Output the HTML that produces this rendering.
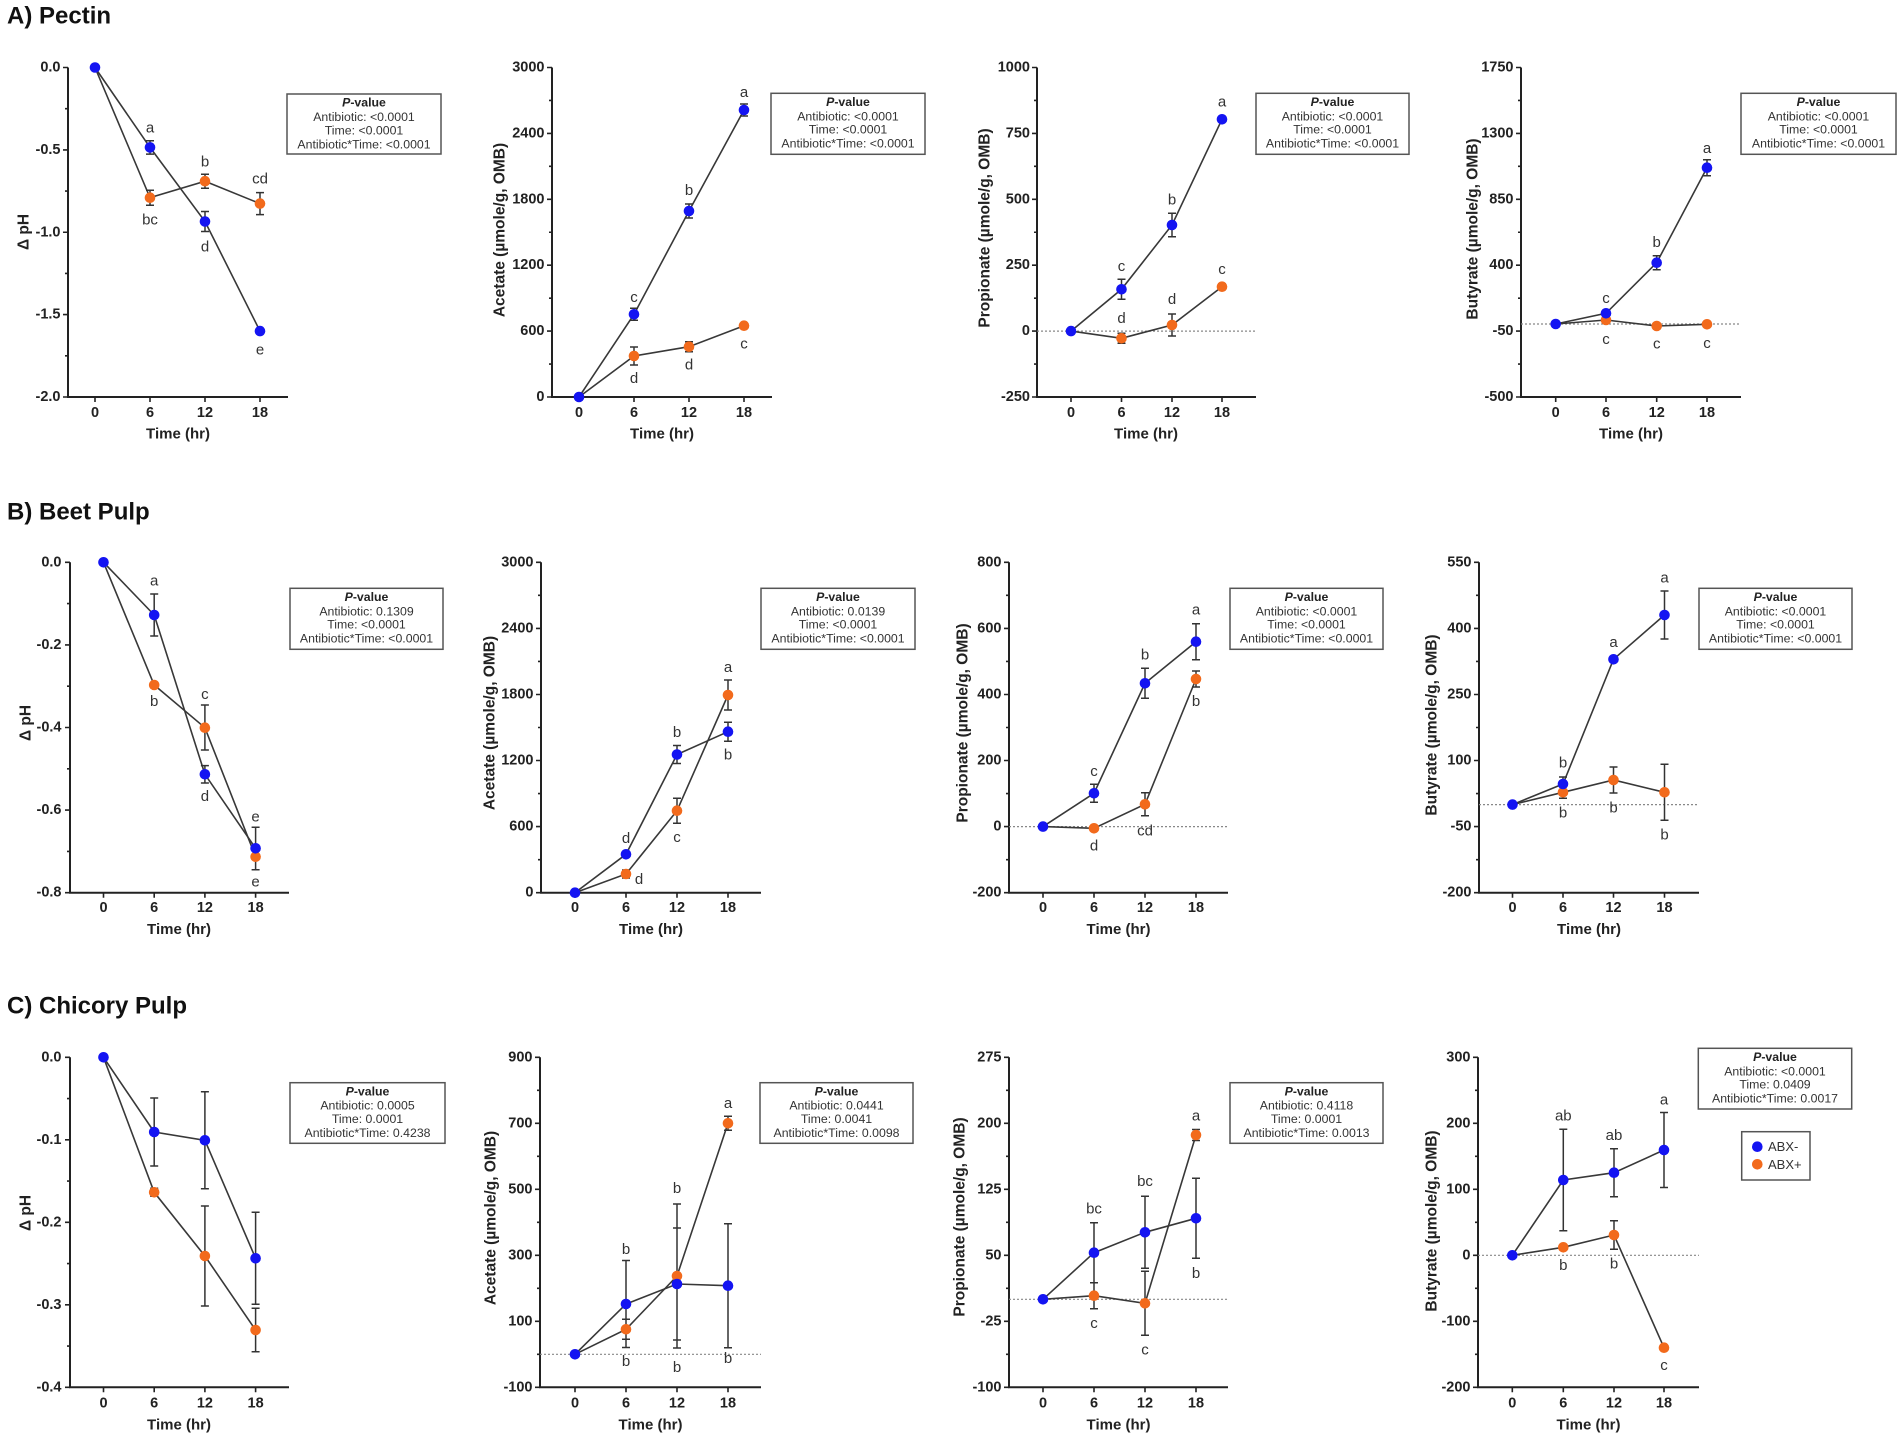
<!DOCTYPE html>
<html><head><meta charset="utf-8"><style>
html,body{margin:0;padding:0;background:#fff}
svg{display:block}
.ax{stroke:#222;stroke-width:2;fill:none}
.tk{stroke:#222;stroke-width:1.6;fill:none}
.ln{stroke:#383838;stroke-width:1.6;fill:none}
.eb{stroke:#333;stroke-width:1.5;fill:none}
.dt{stroke:#888;stroke-width:1.2;stroke-dasharray:2 2;fill:none}
.b{fill:#1414f2}
.o{fill:#f26a1c}
text{font-family:"Liberation Sans",Arial,sans-serif;dominant-baseline:central}
.yl{font-size:14.5px;font-weight:bold;fill:#222;text-anchor:end}
.xl{font-size:14.5px;font-weight:bold;fill:#222;text-anchor:middle}
.xt{font-size:15px;font-weight:bold;fill:#222;text-anchor:middle}
.ya{font-size:15.5px;font-weight:bold;fill:#222;text-anchor:middle}
.lt{font-size:15px;fill:#333;text-anchor:middle}
.lg{font-size:12.3px;fill:#333;text-anchor:middle}
.lgh{font-size:12.3px;fill:#222;font-weight:bold;text-anchor:middle}
.bx{fill:#fff;stroke:#555;stroke-width:1.5}
.ttl{font-size:24px;font-weight:bold;fill:#111}
</style></head><body>
<svg width="1902" height="1440" viewBox="0 0 1902 1440" xmlns="http://www.w3.org/2000/svg">
<rect width="1902" height="1440" fill="#fff"/>

<text class="ttl" x="7" y="16">A) Pectin</text>
<text class="ttl" x="7" y="512">B) Beet Pulp</text>
<text class="ttl" x="7" y="1006">C) Chicory Pulp</text>

<!-- ================= A1 ================= -->
<path class="ax" d="M68 67.5V397H288"/>
<path class="tk" d="M63 67.5H68M65 108.7H68M63 149.9H68M65 191.1H68M63 232.25H68M65 273.4H68M63 314.6H68M65 355.8H68M63 397H68M95 397V402M150 397V402M205 397V402M260 397V402"/>
<text class="yl" x="60.5" y="67.5">0.0</text><text class="yl" x="60.5" y="149.9">-0.5</text><text class="yl" x="60.5" y="232.25">-1.0</text><text class="yl" x="60.5" y="314.6">-1.5</text><text class="yl" x="60.5" y="397">-2.0</text>
<text class="xl" x="95" y="413">0</text><text class="xl" x="150" y="413">6</text><text class="xl" x="205" y="413">12</text><text class="xl" x="260" y="413">18</text>
<text class="xt" x="178" y="434">Time (hr)</text>
<text class="ya" transform="translate(24 232) rotate(-90)">Δ pH</text>
<polyline class="ln" points="95,67.5 150,147.4 205,221.5 260,331.1"/>
<polyline class="ln" points="95,67.5 150,197.7 205,181.2 260,203.6"/>
<path class="eb" d="M150 140.7V154.1M146 140.7H154M146 154.1H154M205 211.5V231.5M201 211.5H209M201 231.5H209M150 190.2V205.2M146 190.2H154M146 205.2H154M205 174.2V188.2M201 174.2H209M201 188.2H209M260 192.6V214.6M256 192.6H264M256 214.6H264"/>
<g class="o"><circle cx="150" cy="197.7" r="5.3"/><circle cx="205" cy="181.2" r="5.3"/><circle cx="260" cy="203.6" r="5.3"/></g>
<g class="b"><circle cx="95" cy="67.5" r="5.3"/><circle cx="150" cy="147.4" r="5.3"/><circle cx="205" cy="221.5" r="5.3"/><circle cx="260" cy="331.1" r="5.3"/></g>
<text class="lt" x="150" y="128">a</text><text class="lt" x="150" y="220">bc</text><text class="lt" x="205" y="162">b</text><text class="lt" x="205" y="247">d</text><text class="lt" x="260" y="179">cd</text><text class="lt" x="260" y="350">e</text>
<rect class="bx" x="287" y="94" width="154" height="60"/>
<text class="lgh" x="364" y="102.7"><tspan font-style="italic">P</tspan>-value</text>
<text class="lg" x="364" y="117">Antibiotic: &lt;0.0001</text><text class="lg" x="364" y="130.3">Time: &lt;0.0001</text><text class="lg" x="364" y="144.3">Antibiotic*Time: &lt;0.0001</text>

<!-- ================= A2 ================= -->
<path class="ax" d="M552 67.5V397H772"/>
<path class="tk" d="M547 67.5H552M549 100.45H552M547 133.4H552M549 166.35H552M547 199.3H552M549 232.25H552M547 265.2H552M549 298.15H552M547 331.1H552M549 364.05H552M547 397H552M579 397V402M634 397V402M689 397V402M744 397V402"/>
<text class="yl" x="544.5" y="67.5">3000</text><text class="yl" x="544.5" y="133.4">2400</text><text class="yl" x="544.5" y="199.3">1800</text><text class="yl" x="544.5" y="265.2">1200</text><text class="yl" x="544.5" y="331.1">600</text><text class="yl" x="544.5" y="397">0</text>
<text class="xl" x="579" y="413">0</text><text class="xl" x="634" y="413">6</text><text class="xl" x="689" y="413">12</text><text class="xl" x="744" y="413">18</text>
<text class="xt" x="662" y="434">Time (hr)</text>
<text class="ya" transform="translate(500 230) rotate(-90)">Acetate (µmole/g, OMB)</text>
<polyline class="ln" points="579,397 634,314.3 689,211 744,110"/>
<polyline class="ln" points="579,397 634,356 689,346.7 744,325.7"/>
<path class="eb" d="M634 308.3V320.3M630 308.3H638M630 320.3H638M689 204V218M685 204H693M685 218H693M744 104V116M740 104H748M740 116H748M634 347V365M630 347H638M630 365H638M689 341.7V351.7M685 341.7H693M685 351.7H693"/>
<g class="o"><circle cx="634" cy="356" r="5.3"/><circle cx="689" cy="346.7" r="5.3"/><circle cx="744" cy="325.7" r="5.3"/></g>
<g class="b"><circle cx="579" cy="397" r="5.3"/><circle cx="634" cy="314.3" r="5.3"/><circle cx="689" cy="211" r="5.3"/><circle cx="744" cy="110" r="5.3"/></g>
<text class="lt" x="634" y="297.3">c</text><text class="lt" x="689" y="190.7">b</text><text class="lt" x="744" y="92.3">a</text><text class="lt" x="634" y="378.3">d</text><text class="lt" x="689" y="365">d</text><text class="lt" x="744" y="344">c</text>
<rect class="bx" x="771" y="93.3" width="154" height="61"/>
<text class="lgh" x="848" y="102"><tspan font-style="italic">P</tspan>-value</text>
<text class="lg" x="848" y="116.3">Antibiotic: &lt;0.0001</text><text class="lg" x="848" y="129.6">Time: &lt;0.0001</text><text class="lg" x="848" y="143.6">Antibiotic*Time: &lt;0.0001</text>

<!-- ================= A3 ================= -->
<path class="ax" d="M1037 67.5V397H1256"/>
<path class="dt" d="M1037 331.1H1256"/>
<path class="tk" d="M1032 67.5H1037M1034 100.45H1037M1032 133.4H1037M1034 166.35H1037M1032 199.3H1037M1034 232.25H1037M1032 265.2H1037M1034 298.15H1037M1032 331.1H1037M1034 364.05H1037M1032 397H1037M1071 397V402M1121.5 397V402M1172 397V402M1222 397V402"/>
<text class="yl" x="1030" y="67.5">1000</text><text class="yl" x="1030" y="133.4">750</text><text class="yl" x="1030" y="199.3">500</text><text class="yl" x="1030" y="265.2">250</text><text class="yl" x="1030" y="331.1">0</text><text class="yl" x="1030" y="397">-250</text>
<text class="xl" x="1071" y="413">0</text><text class="xl" x="1121.5" y="413">6</text><text class="xl" x="1172" y="413">12</text><text class="xl" x="1222" y="413">18</text>
<text class="xt" x="1146" y="434">Time (hr)</text>
<text class="ya" transform="translate(985 228) rotate(-90)">Propionate (µmole/g, OMB)</text>
<polyline class="ln" points="1071,331.1 1121.5,289.3 1172,225 1222,119.3"/>
<polyline class="ln" points="1071,331.1 1121.5,338.3 1172,325 1222,286.7"/>
<path class="eb" d="M1121.5 279.3V299.3M1117.5 279.3H1125.5M1117.5 299.3H1125.5M1172 213.3V236.7M1168 213.3H1176M1168 236.7H1176M1121.5 333.3V343.3M1117.5 333.3H1125.5M1117.5 343.3H1125.5M1172 314V336M1168 314H1176M1168 336H1176M1222 283.7V289.7M1218 283.7H1226M1218 289.7H1226"/>
<g class="o"><circle cx="1121.5" cy="338.3" r="5.3"/><circle cx="1172" cy="325" r="5.3"/><circle cx="1222" cy="286.7" r="5.3"/></g>
<g class="b"><circle cx="1071" cy="331.1" r="5.3"/><circle cx="1121.5" cy="289.3" r="5.3"/><circle cx="1172" cy="225" r="5.3"/><circle cx="1222" cy="119.3" r="5.3"/></g>
<text class="lt" x="1121.5" y="266.7">c</text><text class="lt" x="1121.5" y="318.5">d</text><text class="lt" x="1172" y="200">b</text><text class="lt" x="1172" y="299.5">d</text><text class="lt" x="1222" y="102">a</text><text class="lt" x="1222" y="269.5">c</text>
<rect class="bx" x="1256" y="93.3" width="153" height="61"/>
<text class="lgh" x="1332.5" y="102"><tspan font-style="italic">P</tspan>-value</text>
<text class="lg" x="1332.5" y="116.3">Antibiotic: &lt;0.0001</text><text class="lg" x="1332.5" y="129.6">Time: &lt;0.0001</text><text class="lg" x="1332.5" y="143.6">Antibiotic*Time: &lt;0.0001</text>

<!-- ================= A4 ================= -->
<path class="ax" d="M1521 67.5V397H1741"/>
<path class="dt" d="M1521 324H1741"/>
<path class="tk" d="M1516 67.5H1521M1518 100.45H1521M1516 133.4H1521M1518 166.35H1521M1516 199.3H1521M1518 232.25H1521M1516 265.2H1521M1518 298.15H1521M1516 331.1H1521M1518 364.05H1521M1516 397H1521M1555.7 397V402M1606 397V402M1656.7 397V402M1707 397V402"/>
<text class="yl" x="1513.5" y="67.5">1750</text><text class="yl" x="1513.5" y="133.4">1300</text><text class="yl" x="1513.5" y="199.3">850</text><text class="yl" x="1513.5" y="265.2">400</text><text class="yl" x="1513.5" y="331.1">-50</text><text class="yl" x="1513.5" y="397">-500</text>
<text class="xl" x="1555.7" y="413">0</text><text class="xl" x="1606" y="413">6</text><text class="xl" x="1656.7" y="413">12</text><text class="xl" x="1707" y="413">18</text>
<text class="xt" x="1631" y="434">Time (hr)</text>
<text class="ya" transform="translate(1473 229) rotate(-90)">Butyrate (µmole/g, OMB)</text>
<polyline class="ln" points="1555.7,324 1606,313.3 1656.7,262.7 1707,167.7"/>
<polyline class="ln" points="1555.7,324 1606,320 1656.7,326 1707,324.3"/>
<path class="eb" d="M1606 310.3V316.3M1602 310.3H1610M1656.7 255.7V269.7M1652.7 255.7H1660.7M1652.7 269.7H1660.7M1707 159.7V175.7M1703 159.7H1711M1703 175.7H1711"/>
<g class="o"><circle cx="1606" cy="320" r="5.3"/><circle cx="1656.7" cy="326" r="5.3"/><circle cx="1707" cy="324.3" r="5.3"/></g>
<g class="b"><circle cx="1555.7" cy="324" r="5.3"/><circle cx="1606" cy="313.3" r="5.3"/><circle cx="1656.7" cy="262.7" r="5.3"/><circle cx="1707" cy="167.7" r="5.3"/></g>
<text class="lt" x="1606" y="298.3">c</text><text class="lt" x="1606" y="339.3">c</text><text class="lt" x="1656.7" y="242.7">b</text><text class="lt" x="1656.7" y="344">c</text><text class="lt" x="1707" y="148.3">a</text><text class="lt" x="1707" y="343.3">c</text>
<rect class="bx" x="1741" y="93.3" width="155" height="61"/>
<text class="lgh" x="1818.5" y="102"><tspan font-style="italic">P</tspan>-value</text>
<text class="lg" x="1818.5" y="116.3">Antibiotic: &lt;0.0001</text><text class="lg" x="1818.5" y="129.6">Time: &lt;0.0001</text><text class="lg" x="1818.5" y="143.6">Antibiotic*Time: &lt;0.0001</text>

<!-- ================= B1 ================= -->
<path class="ax" d="M70 562.3V892.7H289"/>
<path class="tk" d="M65 562.3H70M67 603.6H70M65 644.9H70M67 686.2H70M65 727.5H70M67 768.8H70M65 810.1H70M67 851.4H70M65 892.7H70M103.5 892.7V897.7M154.2 892.7V897.7M204.9 892.7V897.7M255.6 892.7V897.7"/>
<text class="yl" x="61.5" y="562.3">0.0</text><text class="yl" x="61.5" y="644.9">-0.2</text><text class="yl" x="61.5" y="727.5">-0.4</text><text class="yl" x="61.5" y="810.1">-0.6</text><text class="yl" x="61.5" y="892.7">-0.8</text>
<text class="xl" x="103.5" y="908">0</text><text class="xl" x="154.2" y="908">6</text><text class="xl" x="204.9" y="908">12</text><text class="xl" x="255.6" y="908">18</text>
<text class="xt" x="179" y="929.5">Time (hr)</text>
<text class="ya" transform="translate(26 723) rotate(-90)">Δ pH</text>
<polyline class="ln" points="103.5,562.3 154.2,615 204.9,774.3 255.6,848.3"/>
<polyline class="ln" points="103.5,562.3 154.2,685 204.9,727.7 255.6,856.7"/>
<path class="eb" d="M154.2 594V636M150.2 594H158.2M150.2 636H158.2M204.9 765.6V783M200.9 765.6H208.9M200.9 783H208.9M255.6 827.3V869.7M251.6 827.3H259.6M251.6 869.7H259.6M204.9 705V750M200.9 705H208.9M200.9 750H208.9"/>
<g class="o"><circle cx="154.2" cy="685" r="5.3"/><circle cx="204.9" cy="727.7" r="5.3"/><circle cx="255.6" cy="856.7" r="5.3"/></g>
<g class="b"><circle cx="103.5" cy="562.3" r="5.3"/><circle cx="154.2" cy="615" r="5.3"/><circle cx="204.9" cy="774.3" r="5.3"/><circle cx="255.6" cy="848.3" r="5.3"/></g>
<text class="lt" x="154.2" y="581">a</text><text class="lt" x="154.2" y="701.7">b</text><text class="lt" x="204.9" y="694.5">c</text><text class="lt" x="204.9" y="796.7">d</text><text class="lt" x="255.6" y="817">e</text><text class="lt" x="255.6" y="882">e</text>
<rect class="bx" x="290" y="588.3" width="153" height="61"/>
<text class="lgh" x="366.5" y="597"><tspan font-style="italic">P</tspan>-value</text>
<text class="lg" x="366.5" y="611.3">Antibiotic: 0.1309</text><text class="lg" x="366.5" y="624.6">Time: &lt;0.0001</text><text class="lg" x="366.5" y="638.6">Antibiotic*Time: &lt;0.0001</text>

<!-- ================= B2 ================= -->
<path class="ax" d="M541 562.3V892.7H761"/>
<path class="tk" d="M536 562.3H541M538 595.35H541M536 628.4H541M538 661.45H541M536 694.5H541M538 727.5H541M536 760.5H541M538 793.55H541M536 826.6H541M538 859.65H541M536 892.7H541M575 892.7V897.7M626 892.7V897.7M677 892.7V897.7M728 892.7V897.7"/>
<text class="yl" x="533.5" y="562.3">3000</text><text class="yl" x="533.5" y="628.4">2400</text><text class="yl" x="533.5" y="694.5">1800</text><text class="yl" x="533.5" y="760.5">1200</text><text class="yl" x="533.5" y="826.6">600</text><text class="yl" x="533.5" y="892.7">0</text>
<text class="xl" x="575" y="908">0</text><text class="xl" x="626" y="908">6</text><text class="xl" x="677" y="908">12</text><text class="xl" x="728" y="908">18</text>
<text class="xt" x="651" y="929.5">Time (hr)</text>
<text class="ya" transform="translate(490 723) rotate(-90)">Acetate (µmole/g, OMB)</text>
<polyline class="ln" points="575,892.7 626,854.3 677,754.5 728,731.7"/>
<polyline class="ln" points="575,892.7 626,874 677,810.7 728,695"/>
<path class="eb" d="M626 870V878M622 870H630M622 878H630M677 745.5V763.5M673 745.5H681M673 763.5H681M677 798.3V823.3M673 798.3H681M673 823.3H681M728 722.3V741.3M724 722.3H732M724 741.3H732M728 680V710M724 680H732M724 710H732"/>
<g class="o"><circle cx="626" cy="874" r="5.3"/><circle cx="677" cy="810.7" r="5.3"/><circle cx="728" cy="695" r="5.3"/></g>
<g class="b"><circle cx="575" cy="892.7" r="5.3"/><circle cx="626" cy="854.3" r="5.3"/><circle cx="677" cy="754.5" r="5.3"/><circle cx="728" cy="731.7" r="5.3"/></g>
<text class="lt" x="626" y="838.3">d</text><text class="lt" x="639" y="879.3">d</text><text class="lt" x="677" y="732.7">b</text><text class="lt" x="677" y="837.7">c</text><text class="lt" x="728" y="667.3">a</text><text class="lt" x="728" y="755">b</text>
<rect class="bx" x="761" y="588.3" width="154" height="61"/>
<text class="lgh" x="838" y="597"><tspan font-style="italic">P</tspan>-value</text>
<text class="lg" x="838" y="611.3">Antibiotic: 0.0139</text><text class="lg" x="838" y="624.6">Time: &lt;0.0001</text><text class="lg" x="838" y="638.6">Antibiotic*Time: &lt;0.0001</text>

<!-- ================= B3 ================= -->
<path class="ax" d="M1009 562.3V892.7H1228"/>
<path class="dt" d="M1009 826.6H1228"/>
<path class="tk" d="M1004 562.3H1009M1006 595.35H1009M1004 628.4H1009M1006 661.45H1009M1004 694.5H1009M1006 727.5H1009M1004 760.5H1009M1006 793.55H1009M1004 826.6H1009M1006 859.65H1009M1004 892.7H1009M1043 892.7V897.7M1094 892.7V897.7M1145 892.7V897.7M1196 892.7V897.7"/>
<text class="yl" x="1001.5" y="562.3">800</text><text class="yl" x="1001.5" y="628.4">600</text><text class="yl" x="1001.5" y="694.5">400</text><text class="yl" x="1001.5" y="760.5">200</text><text class="yl" x="1001.5" y="826.6">0</text><text class="yl" x="1001.5" y="892.7">-200</text>
<text class="xl" x="1043" y="908">0</text><text class="xl" x="1094" y="908">6</text><text class="xl" x="1145" y="908">12</text><text class="xl" x="1196" y="908">18</text>
<text class="xt" x="1118.5" y="929.5">Time (hr)</text>
<text class="ya" transform="translate(963 723) rotate(-90)">Propionate (µmole/g, OMB)</text>
<polyline class="ln" points="1043,826.6 1094,793.3 1145,683.3 1196,641.7"/>
<polyline class="ln" points="1043,826.6 1094,828.3 1145,804.3 1196,679"/>
<path class="eb" d="M1094 784.3V802.3M1090 784.3H1098M1090 802.3H1098M1145 668.3V698.3M1141 668.3H1149M1141 698.3H1149M1196 623.7V659.7M1192 623.7H1200M1192 659.7H1200M1145 792.8V815.8M1141 792.8H1149M1141 815.8H1149M1196 671V687M1192 671H1200M1192 687H1200"/>
<g class="o"><circle cx="1094" cy="828.3" r="5.3"/><circle cx="1145" cy="804.3" r="5.3"/><circle cx="1196" cy="679" r="5.3"/></g>
<g class="b"><circle cx="1043" cy="826.6" r="5.3"/><circle cx="1094" cy="793.3" r="5.3"/><circle cx="1145" cy="683.3" r="5.3"/><circle cx="1196" cy="641.7" r="5.3"/></g>
<text class="lt" x="1094" y="771.7">c</text><text class="lt" x="1094" y="846">d</text><text class="lt" x="1145" y="655">b</text><text class="lt" x="1145" y="831">cd</text><text class="lt" x="1196" y="610">a</text><text class="lt" x="1196" y="701.7">b</text>
<rect class="bx" x="1230" y="588.3" width="153" height="61"/>
<text class="lgh" x="1306.5" y="597"><tspan font-style="italic">P</tspan>-value</text>
<text class="lg" x="1306.5" y="611.3">Antibiotic: &lt;0.0001</text><text class="lg" x="1306.5" y="624.6">Time: &lt;0.0001</text><text class="lg" x="1306.5" y="638.6">Antibiotic*Time: &lt;0.0001</text>

<!-- ================= B4 ================= -->
<path class="ax" d="M1479 562.3V892.7H1699"/>
<path class="dt" d="M1479 804.6H1699"/>
<path class="tk" d="M1474 562.3H1479M1476 595.35H1479M1474 628.4H1479M1476 661.45H1479M1474 694.5H1479M1476 727.5H1479M1474 760.5H1479M1476 793.55H1479M1474 826.6H1479M1476 859.65H1479M1474 892.7H1479M1512.5 892.7V897.7M1563 892.7V897.7M1613.5 892.7V897.7M1664.5 892.7V897.7"/>
<text class="yl" x="1471.5" y="562.3">550</text><text class="yl" x="1471.5" y="628.4">400</text><text class="yl" x="1471.5" y="694.5">250</text><text class="yl" x="1471.5" y="760.5">100</text><text class="yl" x="1471.5" y="826.6">-50</text><text class="yl" x="1471.5" y="892.7">-200</text>
<text class="xl" x="1512.5" y="908">0</text><text class="xl" x="1563" y="908">6</text><text class="xl" x="1613.5" y="908">12</text><text class="xl" x="1664.5" y="908">18</text>
<text class="xt" x="1589" y="929.5">Time (hr)</text>
<text class="ya" transform="translate(1432 725) rotate(-90)">Butyrate (µmole/g, OMB)</text>
<polyline class="ln" points="1512.5,804.6 1563,784 1613.5,659.3 1664.5,615"/>
<polyline class="ln" points="1512.5,804.6 1563,792.3 1613.5,780 1664.5,792.3"/>
<path class="eb" d="M1563 777V791M1559 777H1567M1664.5 591V639M1660.5 591H1668.5M1660.5 639H1668.5M1563 786.3V798.3M1559 798.3H1567M1613.5 767V793M1609.5 767H1617.5M1609.5 793H1617.5M1664.5 764.3V820.3M1660.5 764.3H1668.5M1660.5 820.3H1668.5"/>
<g class="o"><circle cx="1563" cy="792.3" r="5.3"/><circle cx="1613.5" cy="780" r="5.3"/><circle cx="1664.5" cy="792.3" r="5.3"/></g>
<g class="b"><circle cx="1512.5" cy="804.6" r="5.3"/><circle cx="1563" cy="784" r="5.3"/><circle cx="1613.5" cy="659.3" r="5.3"/><circle cx="1664.5" cy="615" r="5.3"/></g>
<text class="lt" x="1563" y="763">b</text><text class="lt" x="1563" y="813">b</text><text class="lt" x="1613.5" y="642.7">a</text><text class="lt" x="1613.5" y="808">b</text><text class="lt" x="1664.5" y="578">a</text><text class="lt" x="1664.5" y="835">b</text>
<rect class="bx" x="1699" y="588.3" width="153" height="61"/>
<text class="lgh" x="1775.5" y="597"><tspan font-style="italic">P</tspan>-value</text>
<text class="lg" x="1775.5" y="611.3">Antibiotic: &lt;0.0001</text><text class="lg" x="1775.5" y="624.6">Time: &lt;0.0001</text><text class="lg" x="1775.5" y="638.6">Antibiotic*Time: &lt;0.0001</text>

<!-- ================= C1 ================= -->
<path class="ax" d="M70 1057.3V1387.3H289"/>
<path class="tk" d="M65 1057.3H70M67 1098.55H70M65 1139.8H70M67 1181.05H70M65 1222.3H70M67 1263.55H70M65 1304.8H70M67 1346.05H70M65 1387.3H70M103.5 1387.3V1392.3M154.2 1387.3V1392.3M204.9 1387.3V1392.3M255.6 1387.3V1392.3"/>
<text class="yl" x="61.5" y="1057.3">0.0</text><text class="yl" x="61.5" y="1139.8">-0.1</text><text class="yl" x="61.5" y="1222.3">-0.2</text><text class="yl" x="61.5" y="1304.8">-0.3</text><text class="yl" x="61.5" y="1387.3">-0.4</text>
<text class="xl" x="103.5" y="1403.3">0</text><text class="xl" x="154.2" y="1403.3">6</text><text class="xl" x="204.9" y="1403.3">12</text><text class="xl" x="255.6" y="1403.3">18</text>
<text class="xt" x="179" y="1425">Time (hr)</text>
<text class="ya" transform="translate(26 1213) rotate(-90)">Δ pH</text>
<polyline class="ln" points="103.5,1057.3 154.2,1132 204.9,1140.3 255.6,1258.3"/>
<polyline class="ln" points="103.5,1057.3 154.2,1192.3 204.9,1256 255.6,1330"/>
<path class="eb" d="M154.2 1098V1166M150.2 1098H158.2M150.2 1166H158.2M204.9 1091.8V1188.8M200.9 1091.8H208.9M200.9 1188.8H208.9M255.6 1212.3V1304.3M251.6 1212.3H259.6M251.6 1304.3H259.6M154.2 1188.3V1196.3M150.2 1188.3H158.2M150.2 1196.3H158.2M204.9 1206V1306M200.9 1206H208.9M200.9 1306H208.9M255.6 1308.3V1351.7M251.6 1308.3H259.6M251.6 1351.7H259.6"/>
<g class="o"><circle cx="154.2" cy="1192.3" r="5.3"/><circle cx="204.9" cy="1256" r="5.3"/><circle cx="255.6" cy="1330" r="5.3"/></g>
<g class="b"><circle cx="103.5" cy="1057.3" r="5.3"/><circle cx="154.2" cy="1132" r="5.3"/><circle cx="204.9" cy="1140.3" r="5.3"/><circle cx="255.6" cy="1258.3" r="5.3"/></g>
<rect class="bx" x="290" y="1082.7" width="155" height="60.6"/>
<text class="lgh" x="367.5" y="1091.4"><tspan font-style="italic">P</tspan>-value</text>
<text class="lg" x="367.5" y="1105.7">Antibiotic: 0.0005</text><text class="lg" x="367.5" y="1119">Time: 0.0001</text><text class="lg" x="367.5" y="1133">Antibiotic*Time: 0.4238</text>

<!-- ================= C2 ================= -->
<path class="ax" d="M540 1057.3V1387.3H761"/>
<path class="dt" d="M540 1354.3H761"/>
<path class="tk" d="M535 1057.3H540M537 1090.3H540M535 1123.3H540M537 1156.3H540M535 1189.3H540M537 1222.3H540M535 1255.3H540M537 1288.3H540M535 1321.3H540M537 1354.3H540M535 1387.3H540M575 1387.3V1392.3M626 1387.3V1392.3M677 1387.3V1392.3M728 1387.3V1392.3"/>
<text class="yl" x="532.5" y="1057.3">900</text><text class="yl" x="532.5" y="1123.3">700</text><text class="yl" x="532.5" y="1189.3">500</text><text class="yl" x="532.5" y="1255.3">300</text><text class="yl" x="532.5" y="1321.3">100</text><text class="yl" x="532.5" y="1387.3">-100</text>
<text class="xl" x="575" y="1403.3">0</text><text class="xl" x="626" y="1403.3">6</text><text class="xl" x="677" y="1403.3">12</text><text class="xl" x="728" y="1403.3">18</text>
<text class="xt" x="650.5" y="1425">Time (hr)</text>
<text class="ya" transform="translate(491 1218) rotate(-90)">Acetate (µmole/g, OMB)</text>
<polyline class="ln" points="575,1354.3 626,1304 677,1284 728,1285.7"/>
<polyline class="ln" points="575,1354.3 626,1329.3 677,1276 728,1123.3"/>
<path class="eb" d="M626 1260.5V1347.5M622 1260.5H630M622 1347.5H630M626 1319.3V1339.3M622 1319.3H630M622 1339.3H630M677 1228V1340M673 1228H681M673 1340H681M677 1204V1348M673 1204H681M673 1348H681M728 1223.7V1347.7M724 1223.7H732M724 1347.7H732M728 1116.3V1130.3M724 1116.3H732M724 1130.3H732"/>
<g class="o"><circle cx="626" cy="1329.3" r="5.3"/><circle cx="677" cy="1276" r="5.3"/><circle cx="728" cy="1123.3" r="5.3"/></g>
<g class="b"><circle cx="575" cy="1354.3" r="5.3"/><circle cx="626" cy="1304" r="5.3"/><circle cx="677" cy="1284" r="5.3"/><circle cx="728" cy="1285.7" r="5.3"/></g>
<text class="lt" x="626" y="1249.3">b</text><text class="lt" x="626" y="1361.7">b</text><text class="lt" x="677" y="1188.3">b</text><text class="lt" x="677" y="1367.3">b</text><text class="lt" x="728" y="1103.3">a</text><text class="lt" x="728" y="1358.3">b</text>
<rect class="bx" x="760" y="1082.7" width="153" height="60.6"/>
<text class="lgh" x="836.5" y="1091.4"><tspan font-style="italic">P</tspan>-value</text>
<text class="lg" x="836.5" y="1105.7">Antibiotic: 0.0441</text><text class="lg" x="836.5" y="1119">Time: 0.0041</text><text class="lg" x="836.5" y="1133">Antibiotic*Time: 0.0098</text>

<!-- ================= C3 ================= -->
<path class="ax" d="M1009 1057.3V1387.3H1228"/>
<path class="dt" d="M1009 1299.3H1228"/>
<path class="tk" d="M1004 1057.3H1009M1006 1090.3H1009M1004 1123.3H1009M1006 1156.3H1009M1004 1189.3H1009M1006 1222.3H1009M1004 1255.3H1009M1006 1288.3H1009M1004 1321.3H1009M1006 1354.3H1009M1004 1387.3H1009M1043 1387.3V1392.3M1094 1387.3V1392.3M1145 1387.3V1392.3M1196 1387.3V1392.3"/>
<text class="yl" x="1001.5" y="1057.3">275</text><text class="yl" x="1001.5" y="1123.3">200</text><text class="yl" x="1001.5" y="1189.3">125</text><text class="yl" x="1001.5" y="1255.3">50</text><text class="yl" x="1001.5" y="1321.3">-25</text><text class="yl" x="1001.5" y="1387.3">-100</text>
<text class="xl" x="1043" y="1403.3">0</text><text class="xl" x="1094" y="1403.3">6</text><text class="xl" x="1145" y="1403.3">12</text><text class="xl" x="1196" y="1403.3">18</text>
<text class="xt" x="1118.5" y="1425">Time (hr)</text>
<text class="ya" transform="translate(960 1217) rotate(-90)">Propionate (µmole/g, OMB)</text>
<polyline class="ln" points="1043,1299.3 1094,1252.7 1145,1232.3 1196,1218.3"/>
<polyline class="ln" points="1043,1299.3 1094,1295.7 1145,1303.3 1196,1135"/>
<path class="eb" d="M1094 1222.7V1282.7M1090 1222.7H1098M1090 1282.7H1098M1145 1196.3V1268.3M1141 1196.3H1149M1141 1268.3H1149M1196 1178.3V1258.3M1192 1178.3H1200M1192 1258.3H1200M1094 1282.7V1308.7M1090 1308.7H1098M1145 1271.3V1335.3M1141 1271.3H1149M1141 1335.3H1149M1196 1129.5V1140.5M1192 1129.5H1200M1192 1140.5H1200"/>
<g class="o"><circle cx="1094" cy="1295.7" r="5.3"/><circle cx="1145" cy="1303.3" r="5.3"/><circle cx="1196" cy="1135" r="5.3"/></g>
<g class="b"><circle cx="1043" cy="1299.3" r="5.3"/><circle cx="1094" cy="1252.7" r="5.3"/><circle cx="1145" cy="1232.3" r="5.3"/><circle cx="1196" cy="1218.3" r="5.3"/></g>
<text class="lt" x="1094" y="1209">bc</text><text class="lt" x="1094" y="1323.3">c</text><text class="lt" x="1145" y="1181.7">bc</text><text class="lt" x="1145" y="1350">c</text><text class="lt" x="1196" y="1116">a</text><text class="lt" x="1196" y="1273.3">b</text>
<rect class="bx" x="1230" y="1082.7" width="153" height="60.6"/>
<text class="lgh" x="1306.5" y="1091.4"><tspan font-style="italic">P</tspan>-value</text>
<text class="lg" x="1306.5" y="1105.7">Antibiotic: 0.4118</text><text class="lg" x="1306.5" y="1119">Time: 0.0001</text><text class="lg" x="1306.5" y="1133">Antibiotic*Time: 0.0013</text>

<!-- ================= C4 ================= -->
<path class="ax" d="M1478 1057.3V1387.3H1699"/>
<path class="dt" d="M1478 1255.3H1699"/>
<path class="tk" d="M1473 1057.3H1478M1475 1090.3H1478M1473 1123.3H1478M1475 1156.3H1478M1473 1189.3H1478M1475 1222.3H1478M1473 1255.3H1478M1475 1288.3H1478M1473 1321.3H1478M1475 1354.3H1478M1473 1387.3H1478M1512.3 1387.3V1392.3M1563.3 1387.3V1392.3M1614 1387.3V1392.3M1664 1387.3V1392.3"/>
<text class="yl" x="1470.5" y="1057.3">300</text><text class="yl" x="1470.5" y="1123.3">200</text><text class="yl" x="1470.5" y="1189.3">100</text><text class="yl" x="1470.5" y="1255.3">0</text><text class="yl" x="1470.5" y="1321.3">-100</text><text class="yl" x="1470.5" y="1387.3">-200</text>
<text class="xl" x="1512.3" y="1403.3">0</text><text class="xl" x="1563.3" y="1403.3">6</text><text class="xl" x="1614" y="1403.3">12</text><text class="xl" x="1664" y="1403.3">18</text>
<text class="xt" x="1588.5" y="1425">Time (hr)</text>
<text class="ya" transform="translate(1432 1221) rotate(-90)">Butyrate (µmole/g, OMB)</text>
<polyline class="ln" points="1512.3,1255.3 1563.3,1180 1614,1172.7 1664,1150"/>
<polyline class="ln" points="1512.3,1255.3 1563.3,1247.3 1614,1235 1664,1347.7"/>
<path class="eb" d="M1563.3 1129.3V1230.7M1559.3 1129.3H1567.3M1559.3 1230.7H1567.3M1614 1148.7V1196.7M1610 1148.7H1618M1610 1196.7H1618M1664 1112.5V1187.5M1660 1112.5H1668M1660 1187.5H1668M1614 1220.7V1249.3M1610 1220.7H1618M1610 1249.3H1618"/>
<g class="o"><circle cx="1563.3" cy="1247.3" r="5.3"/><circle cx="1614" cy="1235" r="5.3"/><circle cx="1664" cy="1347.7" r="5.3"/></g>
<g class="b"><circle cx="1512.3" cy="1255.3" r="5.3"/><circle cx="1563.3" cy="1180" r="5.3"/><circle cx="1614" cy="1172.7" r="5.3"/><circle cx="1664" cy="1150" r="5.3"/></g>
<text class="lt" x="1563.3" y="1116">ab</text><text class="lt" x="1563.3" y="1265.7">b</text><text class="lt" x="1614" y="1135.7">ab</text><text class="lt" x="1614" y="1264">b</text><text class="lt" x="1664" y="1100">a</text><text class="lt" x="1664" y="1365.7">c</text>
<rect class="bx" x="1698.3" y="1048.3" width="153.4" height="60.7"/>
<text class="lgh" x="1775" y="1057"><tspan font-style="italic">P</tspan>-value</text>
<text class="lg" x="1775" y="1071.3">Antibiotic: &lt;0.0001</text><text class="lg" x="1775" y="1084.6">Time: 0.0409</text><text class="lg" x="1775" y="1098.6">Antibiotic*Time: 0.0017</text>

<rect class="bx" x="1741.7" y="1131.7" width="68.3" height="48.3"/>
<circle class="b" cx="1757.3" cy="1146.7" r="5.3"/>
<circle class="o" cx="1757.3" cy="1164.3" r="5.3"/>
<text x="1768" y="1146.7" style="font-size:13px;fill:#333">ABX-</text>
<text x="1768" y="1164.3" style="font-size:13px;fill:#333">ABX+</text>
</svg>
</body></html>
